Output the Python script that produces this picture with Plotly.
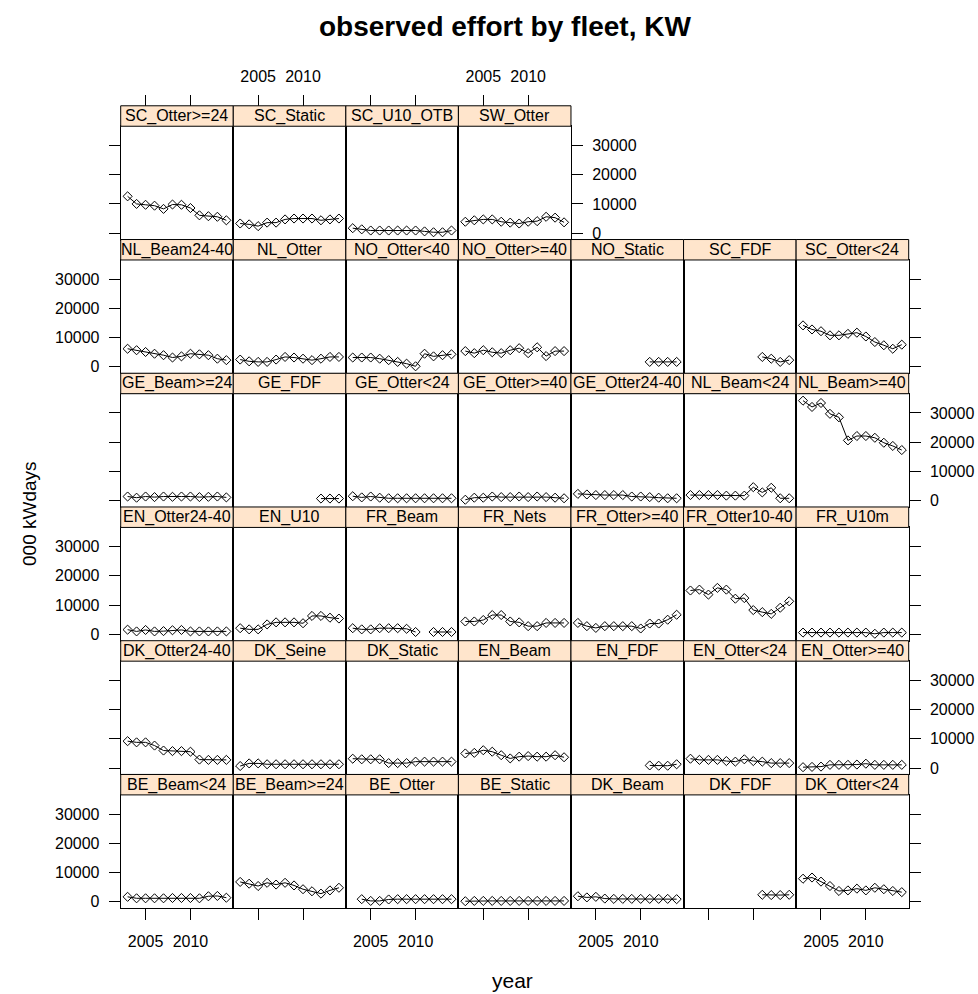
import plotly.graph_objects as go

# ---- data: observed effort (000 kWdays) per fleet, 2003-2014 ----
YEARS = list(range(2003, 2015))

SC_OTTER_GE24 = [12600, 10000, 9700, 9400, 8300, 9800, 9700, 8600, 6100, 5800, 5600, 4400]
SC_STATIC = [3300, 3000, 2400, 3600, 3600, 4700, 5000, 5000, 5000, 4400, 4700, 5000]
SC_U10_OTB = [1700, 1300, 900, 900, 900, 900, 900, 900, 600, 300, 300, 900]
SW_OTTER = [3900, 4400, 4700, 4700, 3900, 3600, 3300, 3900, 4100, 5600, 5300, 3700]

NL_BEAM24_40 = [6200, 5700, 5100, 4500, 4000, 3200, 3600, 4500, 4300, 4000, 2800, 2300]
NL_OTTER = [2500, 1900, 1700, 1700, 2500, 3400, 3200, 2800, 2300, 2800, 3400, 3400]
NO_OTTER_LT40 = [3200, 3200, 3200, 2800, 2300, 1700, 1100, 200, 4500, 3600, 4000, 4300]
NO_OTTER_GE40 = [5400, 4700, 5700, 5000, 4700, 5700, 6400, 4700, 6700, 3700, 5400, 5400]
NO_STATIC = [None] * 8 + [1700, 1700, 1700, 1700]
SC_FDF = [None] * 8 + [3400, 2800, 1700, 2300]
SC_OTTER_LT24 = [14200, 12800, 12200, 10800, 10800, 11300, 11700, 10400, 8500, 7400, 6200, 7600]

GE_BEAM_GE24 = [1400, 1000, 1400, 1200, 1400, 1300, 1400, 1400, 1200, 1300, 1400, 1100]
GE_FDF = [None] * 9 + [700, 700, 700]
GE_OTTER_LT24 = [1500, 1100, 1400, 1000, 800, 800, 800, 800, 800, 800, 800, 800]
GE_OTTER_GE40 = [300, 1000, 1000, 1400, 1200, 1200, 1400, 1200, 1400, 1200, 1000, 800]
GE_OTTER24_40 = [2300, 2100, 1900, 1900, 1900, 1900, 1400, 1400, 1200, 1000, 800, 800]
NL_BEAM_LT24 = [1900, 1900, 1900, 1900, 1700, 1700, 1700, 4600, 2800, 4400, 800, 800]
NL_BEAM_GE40 = [34200, 32050, 33400, 29700, 28500, 20600, 22100, 22100, 21500, 19800, 18700, 17300]

EN_OTTER24_40 = [1600, 1000, 1500, 1000, 1100, 1400, 1500, 1000, 1000, 1000, 1000, 1000]
EN_U10 = [2100, 1700, 1700, 3400, 4100, 4100, 4100, 3800, 6300, 6300, 5700, 5400]
FR_BEAM = [2100, 1700, 1700, 2100, 2100, 2100, 1900, 800, None, 800, 800, 800]
FR_NETS = [4400, 4400, 4900, 6600, 6600, 4400, 4100, 2800, 2800, 3900, 3900, 3900]
FR_OTTER_GE40 = [3900, 2800, 2200, 2800, 2800, 2800, 2800, 2000, 3700, 3700, 5000, 6700]
FR_OTTER10_40 = [15000, 15300, 13600, 15900, 15300, 12200, 12400, 8300, 7600, 7000, 9100, 11300]
FR_U10M = [600, 600, 600, 600, 600, 600, 600, 600, 200, 600, 600, 600]

DK_OTTER24_40 = [9200, 8800, 8800, 7700, 6000, 5800, 5800, 5600, 2900, 2800, 2800, 2800]
DK_SEINE = [700, 1600, 1600, 1300, 1300, 1300, 1300, 1300, 1300, 1300, 1300, 1300]
DK_STATIC = [3200, 3000, 3000, 3000, 1700, 1700, 1700, 2200, 2200, 2200, 2200, 2200]
EN_BEAM = [5000, 5200, 6100, 5600, 4400, 3300, 3900, 4100, 3900, 3900, 4400, 3700]
EN_FDF = [None] * 8 + [900, 800, 800, 1300]
EN_OTTER_LT24 = [3200, 2800, 2800, 2800, 2400, 2200, 3000, 2400, 2200, 1700, 1700, 1700]
EN_OTTER_GE40 = [300, 400, 500, 1100, 1100, 1100, 1200, 1500, 1100, 1100, 1100, 1100]

BE_BEAM_LT24 = [1700, 1200, 1200, 1200, 1200, 1300, 1300, 1300, 1200, 1900, 2000, 1400]
BE_BEAM_GE24 = [6800, 6200, 5400, 6500, 5900, 6500, 5600, 4300, 3600, 2800, 3900, 4800]
BE_OTTER = [None, 900, 300, 300, 800, 900, 900, 900, 900, 900, 900, 900]
BE_STATIC = [200, 300, 300, 300, 300, 300, 300, 300, 300, 300, 300, 300]
DK_BEAM = [1900, 1500, 1700, 1100, 1000, 1000, 1000, 1000, 1000, 1000, 1000, 900]
DK_FDF = [None] * 8 + [2400, 2300, 2300, 2400]
DK_OTTER_LT24 = [7900, 8300, 6900, 5400, 3700, 3900, 4500, 3900, 4800, 4300, 3700, 3300]

# panel arrangement, top row first
PANEL_ROWS = [
    [("SC_Otter>=24", SC_OTTER_GE24), ("SC_Static", SC_STATIC),
     ("SC_U10_OTB", SC_U10_OTB), ("SW_Otter", SW_OTTER)],
    [("NL_Beam24-40", NL_BEAM24_40), ("NL_Otter", NL_OTTER),
     ("NO_Otter<40", NO_OTTER_LT40), ("NO_Otter>=40", NO_OTTER_GE40),
     ("NO_Static", NO_STATIC), ("SC_FDF", SC_FDF), ("SC_Otter<24", SC_OTTER_LT24)],
    [("GE_Beam>=24", GE_BEAM_GE24), ("GE_FDF", GE_FDF),
     ("GE_Otter<24", GE_OTTER_LT24), ("GE_Otter>=40", GE_OTTER_GE40),
     ("GE_Otter24-40", GE_OTTER24_40), ("NL_Beam<24", NL_BEAM_LT24),
     ("NL_Beam>=40", NL_BEAM_GE40)],
    [("EN_Otter24-40", EN_OTTER24_40), ("EN_U10", EN_U10), ("FR_Beam", FR_BEAM),
     ("FR_Nets", FR_NETS), ("FR_Otter>=40", FR_OTTER_GE40),
     ("FR_Otter10-40", FR_OTTER10_40), ("FR_U10m", FR_U10M)],
    [("DK_Otter24-40", DK_OTTER24_40), ("DK_Seine", DK_SEINE),
     ("DK_Static", DK_STATIC), ("EN_Beam", EN_BEAM), ("EN_FDF", EN_FDF),
     ("EN_Otter<24", EN_OTTER_LT24), ("EN_Otter>=40", EN_OTTER_GE40)],
    [("BE_Beam<24", BE_BEAM_LT24), ("BE_Beam>=24", BE_BEAM_GE24),
     ("BE_Otter", BE_OTTER), ("BE_Static", BE_STATIC), ("DK_Beam", DK_BEAM),
     ("DK_FDF", DK_FDF), ("DK_Otter<24", DK_OTTER_LT24)],
]

X_TICKS = [2005, 2010]
X_TICKTEXT = ["2005", "2010"]
Y_TICKS = [0, 10000, 20000, 30000]
Y_TICKTEXT = ["0", "10000", "20000", "30000"]

# ---- geometry (pixels) ----
FIG_W, FIG_H = 978, 994
LEFT, COL_W = 120.7, 112.57
TOP, ROW_H, STRIP_H = 106.0, 134.0, 20.5

FONT = "Liberation Sans, Arial, sans-serif"
TICK_FONT = dict(family=FONT, size=16, color="black")
STRIP_FILL = "#FFE5CC"
TICKLEN = 11


def fx(p):
    return p / FIG_W


def fy(p):
    return 1 - p / FIG_H


# shared scales with lattice-style 7% padding
all_vals = [v for row in PANEL_ROWS for _, s in row for v in s if v is not None]
lo, hi = min(all_vals), max(all_vals)
pad = 0.07 * (hi - lo)
Y_RANGE = [lo - pad, hi + pad]
xspan = YEARS[-1] - YEARS[0]
X_RANGE = [YEARS[0] - 0.07 * xspan, YEARS[-1] + 0.07 * xspan]

fig = go.Figure()
layout = {}
shapes = []
annotations = []

n_panels = sum(len(r) for r in PANEL_ROWS)
extra = n_panels  # counter for additional edge axes
n = 0
n_rows = len(PANEL_ROWS)

base_axis = dict(showgrid=False, zeroline=False, showline=True, mirror=True,
                 linecolor="black", linewidth=1, tickcolor="black",
                 tickwidth=1, ticklen=TICKLEN, tickfont=TICK_FONT)
x_tick_kw = dict(tickvals=X_TICKS, ticktext=X_TICKTEXT, range=X_RANGE)
y_tick_kw = dict(tickvals=Y_TICKS, ticktext=Y_TICKTEXT, range=Y_RANGE)

for r, row in enumerate(PANEL_ROWS):
    top_px = TOP + r * ROW_H
    p_top = top_px + STRIP_H
    p_bot = top_px + ROW_H
    for c, (name, series) in enumerate(row):
        n += 1
        xs = "" if n == 1 else str(n)
        l_px = LEFT + c * COL_W
        r_px = l_px + COL_W

        fig.add_trace(go.Scatter(
            x=YEARS, y=series, mode="lines+markers", xaxis="x" + xs, yaxis="y" + xs,
            line=dict(color="black", width=1),
            marker=dict(symbol="diamond-open", size=7, color="black",
                        line=dict(width=1, color="black")),
            connectgaps=False, showlegend=False, hoverinfo="x+y"))

        bottom_edge = r == n_rows - 1
        left_edge = c == 0
        right_edge = c == len(row) - 1

        layout["xaxis" + xs] = dict(
            base_axis, **x_tick_kw, domain=[fx(l_px), fx(r_px)],
            anchor="y" + xs, side="bottom",
            ticks="outside" if bottom_edge else "",
            showticklabels=bottom_edge and c % 2 == 0, ticklabelstandoff=8)
        layout["yaxis" + xs] = dict(
            base_axis, **y_tick_kw, domain=[fy(p_bot), fy(p_top)],
            anchor="x" + xs, side="left",
            ticks="outside" if left_edge else "",
            showticklabels=left_edge and r % 2 == 1, ticklabelstandoff=6)

        # top axis (above the strip) for panels in the first row
        if r == 0:
            extra += 1
            es = str(extra)
            layout["xaxis" + es] = dict(
                base_axis, **x_tick_kw, overlaying="x" + xs, anchor="free",
                position=fy(top_px), side="top", ticks="outside", showline=False,
                showticklabels=c % 2 == 1, ticklabelstandoff=6)
            fig.add_trace(go.Scatter(x=[], y=[], xaxis="x" + es, yaxis="y" + xs,
                                     showlegend=False))
        # right axis for the last panel of every row
        if right_edge:
            extra += 1
            es = str(extra)
            layout["yaxis" + es] = dict(
                base_axis, **y_tick_kw, overlaying="y" + xs, anchor="x" + xs,
                side="right", ticks="outside", showline=False,
                showticklabels=r % 2 == 0, ticklabelstandoff=6)
            fig.add_trace(go.Scatter(x=[], y=[], xaxis="x" + xs, yaxis="y" + es,
                                     showlegend=False))

        # strip
        shapes.append(dict(type="rect", xref="paper", yref="paper",
                           x0=fx(l_px), x1=fx(r_px), y0=fy(p_top), y1=fy(top_px),
                           fillcolor=STRIP_FILL, line=dict(color="black", width=1),
                           layer="above"))
        annotations.append(dict(text=name, xref="paper", yref="paper",
                                x=fx((l_px + r_px) / 2), y=fy(top_px + STRIP_H / 2),
                                xanchor="center", yanchor="middle", showarrow=False,
                                font=dict(family=FONT, size=16, color="black")))

annotations += [
    dict(text="<b>observed effort by fleet, KW</b>", xref="paper", yref="paper",
         x=fx(505), y=fy(27), xanchor="center", yanchor="middle", showarrow=False,
         font=dict(family=FONT, size=28, color="black")),
    dict(text="year", xref="paper", yref="paper", x=fx(512), y=fy(982),
         xanchor="center", yanchor="middle", showarrow=False,
         font=dict(family=FONT, size=21, color="black")),
    dict(text="000 kWdays", xref="paper", yref="paper", x=fx(30), y=fy(515),
         xanchor="center", yanchor="middle", showarrow=False, textangle=-90,
         font=dict(family=FONT, size=19, color="black")),
]

fig.update_layout(width=FIG_W, height=FIG_H, autosize=False,
                  margin=dict(l=0, r=0, t=0, b=0),
                  paper_bgcolor="white", plot_bgcolor="white",
                  shapes=shapes, annotations=annotations, **layout)

fig.write_html("out.html")
